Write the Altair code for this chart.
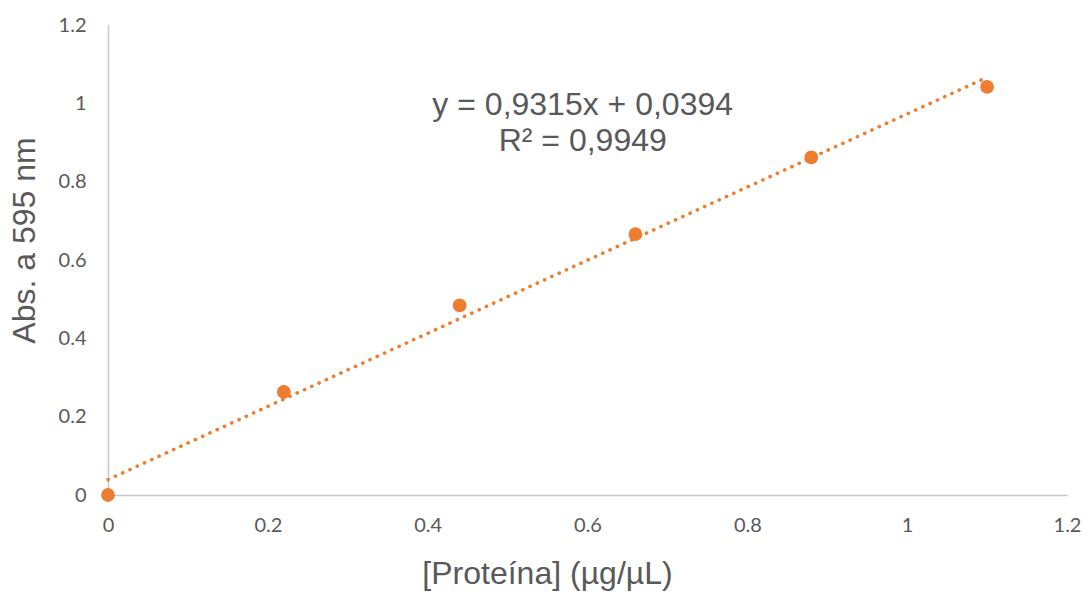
import altair as alt
import pandas as pd

# Data
protein = [0, 0.22, 0.44, 0.66, 0.88, 1.1]
absorbance = [0, 0.263, 0.484, 0.666, 0.862, 1.042]
tick_values = [0, 0.2, 0.4, 0.6, 0.8, 1.0, 1.2]
equation_lines = ["y = 0,9315x + 0,0394", "R² = 0,9949"]
equation_x = [0.594, 0.594]
equation_y = [0.995, 0.905]

df = pd.DataFrame({"x": protein, "y": absorbance})
ann = pd.DataFrame({"x": equation_x, "y": equation_y, "t": equation_lines})

ORANGE = "#ED7D31"
GRAY = "#595959"
AXIS_GRAY = "#C8C8C8"

xscale = alt.Scale(domain=[0, 1.2], nice=False, zero=True)
yscale = alt.Scale(domain=[0, 1.2], nice=False, zero=True)

x_axis = alt.Axis(
    values=tick_values, format=".1~f", grid=False, ticks=False,
    domainColor=AXIS_GRAY, domainWidth=1.5, labelFlush=False, labelOverlap=False,
    labelFont="Lato", labelFontSize=20, labelColor=GRAY, labelPadding=20,
    title="[Proteína] (µg/µL)", titleFont="Liberation Sans", titleFontSize=32,
    titleFontWeight="normal", titleColor=GRAY,
    titleX=439, titleY=78, titleBaseline="middle", titleAlign="center",
)
y_axis = alt.Axis(
    values=tick_values, format=".1~f", grid=False, ticks=False,
    domainColor=AXIS_GRAY, domainWidth=1.5, labelFlush=False, labelOverlap=False,
    labelFont="Lato", labelFontSize=20, labelColor=GRAY, labelPadding=22,
    title="Abs. a 595 nm", titleFont="Liberation Sans", titleFontSize=32,
    titleFontWeight="normal", titleColor=GRAY,
    titleX=-84, titleY=215, titleAngle=-90, titleBaseline="middle", titleAlign="center",
)

base = alt.Chart(df)

trend = base.transform_regression("x", "y", extent=[0, 1.1]).mark_line(
    color=ORANGE, strokeWidth=3.5, strokeDash=[0.3, 7.7], strokeCap="round"
).encode(
    x=alt.X("x:Q", scale=xscale, axis=x_axis),
    y=alt.Y("y:Q", scale=yscale, axis=y_axis),
)

points = base.mark_circle(color=ORANGE, opacity=1, size=190).encode(
    x=alt.X("x:Q", scale=xscale),
    y=alt.Y("y:Q", scale=yscale),
)

text = alt.Chart(ann).mark_text(
    font="Liberation Sans", fontSize=32, color=GRAY, align="center", baseline="middle"
).encode(
    x=alt.X("x:Q", scale=xscale),
    y=alt.Y("y:Q", scale=yscale),
    text="t:N",
)

chart = alt.layer(trend, points, text).properties(
    width=959, height=470,
    background="white",
    autosize=alt.AutoSizeParams(type="none"),
    padding={"left": 108, "top": 25, "right": 17, "bottom": 97},
).configure_view(stroke=None, strokeWidth=0)

chart.save("out.html", embed_options={"renderer": "svg", "actions": False})
